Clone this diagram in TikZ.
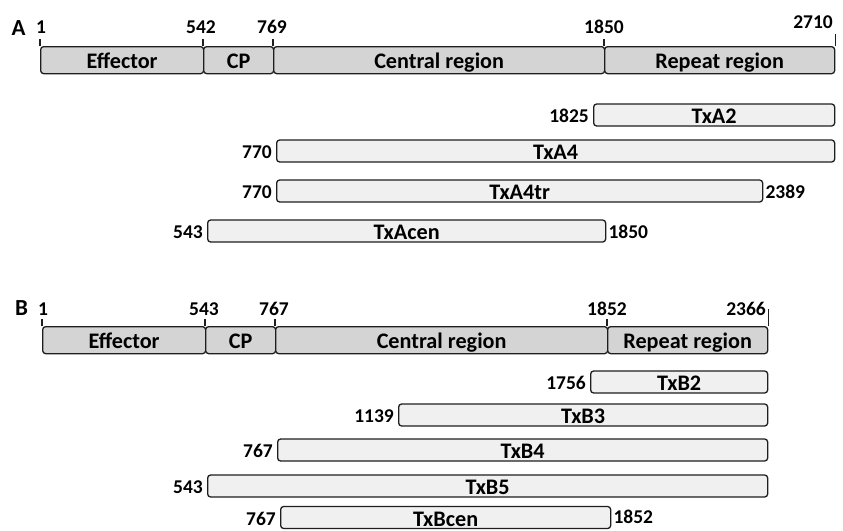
\documentclass[tikz,border=0pt]{standalone}
\usepackage{fontspec}
\setmainfont{Carlito}
\usetikzlibrary{positioning}
\definecolor{domfill}{HTML}{D4D4D4}
\definecolor{fragfill}{HTML}{F0F0F0}
\definecolor{edge}{HTML}{1E1E1E}
\begin{document}
\begin{tikzpicture}[x=1pt,y=-1pt,
  box/.style={draw=edge, line width=1.3pt, rounded corners=3pt, inner sep=0pt,
    font=\fontsize{22.2}{22.2}\selectfont\bfseries, text height=17pt, text depth=0pt},
  dom/.style={box, fill=domfill, minimum height=27pt, anchor=north west},
  frag/.style={box, fill=fragfill, minimum height=22pt, anchor=west},
  num/.style={inner sep=0pt, font=\fontsize{19.5}{19.5}\selectfont\bfseries,
    text height=15pt, text depth=0pt},
  coordlabel/.style={inner sep=0pt, font=\fontsize{19.5}{19.5}\selectfont\bfseries, anchor=base},
  panel/.style={inner sep=0pt, font=\fontsize{23}{23}\selectfont\bfseries, anchor=base},
  tick/.style={draw=edge, line width=1.3pt}]
\useasboundingbox (0,0) rectangle (843,530);
\clip (0,0) rectangle (843,530);

% ---------- panel A: domain bar ----------
\node[panel] (labA) at (18.5,35) {A};
\node[dom, minimum width=163pt] (effA) at (40,46) {Effector};
\node[dom, minimum width=70pt]  (cpA)  at (203,46) {CP};
\node[dom, minimum width=331pt] (cenA) at (273,46) {Central region};
\node[dom, minimum width=230pt] (repA) at (604,46) {Repeat region};

\draw[tick] (effA.north west) -- ++(0,-7);
\draw[tick] (cpA.north west)  -- ++(0,-7);
\draw[tick] (cenA.north west) -- ++(0,-7);
\draw[tick] (repA.north west) -- ++(0,-7);
\draw[tick] (repA.north east) -- ++(0,-12);

\node[coordlabel] (pA1)    at (41,33)  {1};
\node[coordlabel] (pA542)  at (201,33) {542};
\node[coordlabel] (pA769)  at (272,33) {769};
\node[coordlabel] (pA1850) at (604,33) {1850};
\node[coordlabel, anchor=base east] (pA2710) at (833,28) {2710};

% ---------- panel A: constructs ----------
\node[frag, minimum width=241pt] (a2)   at (593,115) {TxA2};
\node[frag, minimum width=558pt] (a4)   at (276,151) {TxA4};
\node[frag, minimum width=486pt] (a4tr) at (276,191) {TxA4tr};
\node[frag, minimum width=398pt] (acen) at (207,231) {TxAcen};

\node[num, left=4pt of a2]   (na2)   {1825};
\node[num, left=4pt of a4]   (na4)   {770};
\node[num, left=4pt of a4tr] (na4tr) {770};
\node[num, right=2pt of a4tr] (ea4tr) {2389};
\node[num, left=4pt of acen] (nacen) {543};
\node[num, right=2pt of acen] (eacen) {1850};

% ---------- panel B: domain bar ----------
\node[panel] (labB) at (21.5,315) {B};
\node[dom, minimum width=163pt] (effB) at (42,326) {Effector};
\node[dom, minimum width=70pt]  (cpB)  at (205,326) {CP};
\node[dom, minimum width=332pt] (cenB) at (275,326) {Central region};
\node[dom, minimum width=160pt] (repB) at (607,326) {Repeat region};

\draw[tick] (effB.north west) -- ++(0,-7);
\draw[tick] (cpB.north west)  -- ++(0,-7);
\draw[tick] (cenB.north west) -- ++(0,-7);
\draw[tick] (repB.north west) -- ++(0,-7);
\draw[tick] (repB.north east) -- ++(0,-17);

\node[coordlabel] (pB1)    at (43,315)  {1};
\node[coordlabel] (pB543)  at (204,315) {543};
\node[coordlabel] (pB767)  at (274,315) {767};
\node[coordlabel] (pB1852) at (607,315) {1852};
\node[coordlabel, anchor=base east] (pB2366) at (766,315) {2366};

% ---------- panel B: constructs ----------
\node[frag, minimum width=177pt] (b2)   at (590,382) {TxB2};
\node[frag, minimum width=369pt] (b3)   at (398,415) {TxB3};
\node[frag, minimum width=490pt] (b4)   at (277,450) {TxB4};
\node[frag, minimum width=560pt] (b5)   at (207,486) {TxB5};
\node[frag, minimum width=330pt] (bcen) at (280,517.5) {TxBcen};

\node[num, left=4pt of b2]   (nb2)   {1756};
\node[num, left=4pt of b3]   (nb3)   {1139};
\node[num, left=4pt of b4]   (nb4)   {767};
\node[num, left=4pt of b5]   (nb5)   {543};
\node[num, left=4pt of bcen] (nbcen) {767};
\node[num, right=2pt of bcen, yshift=2pt] (ebcen) {1852};
\end{tikzpicture}
\end{document}
